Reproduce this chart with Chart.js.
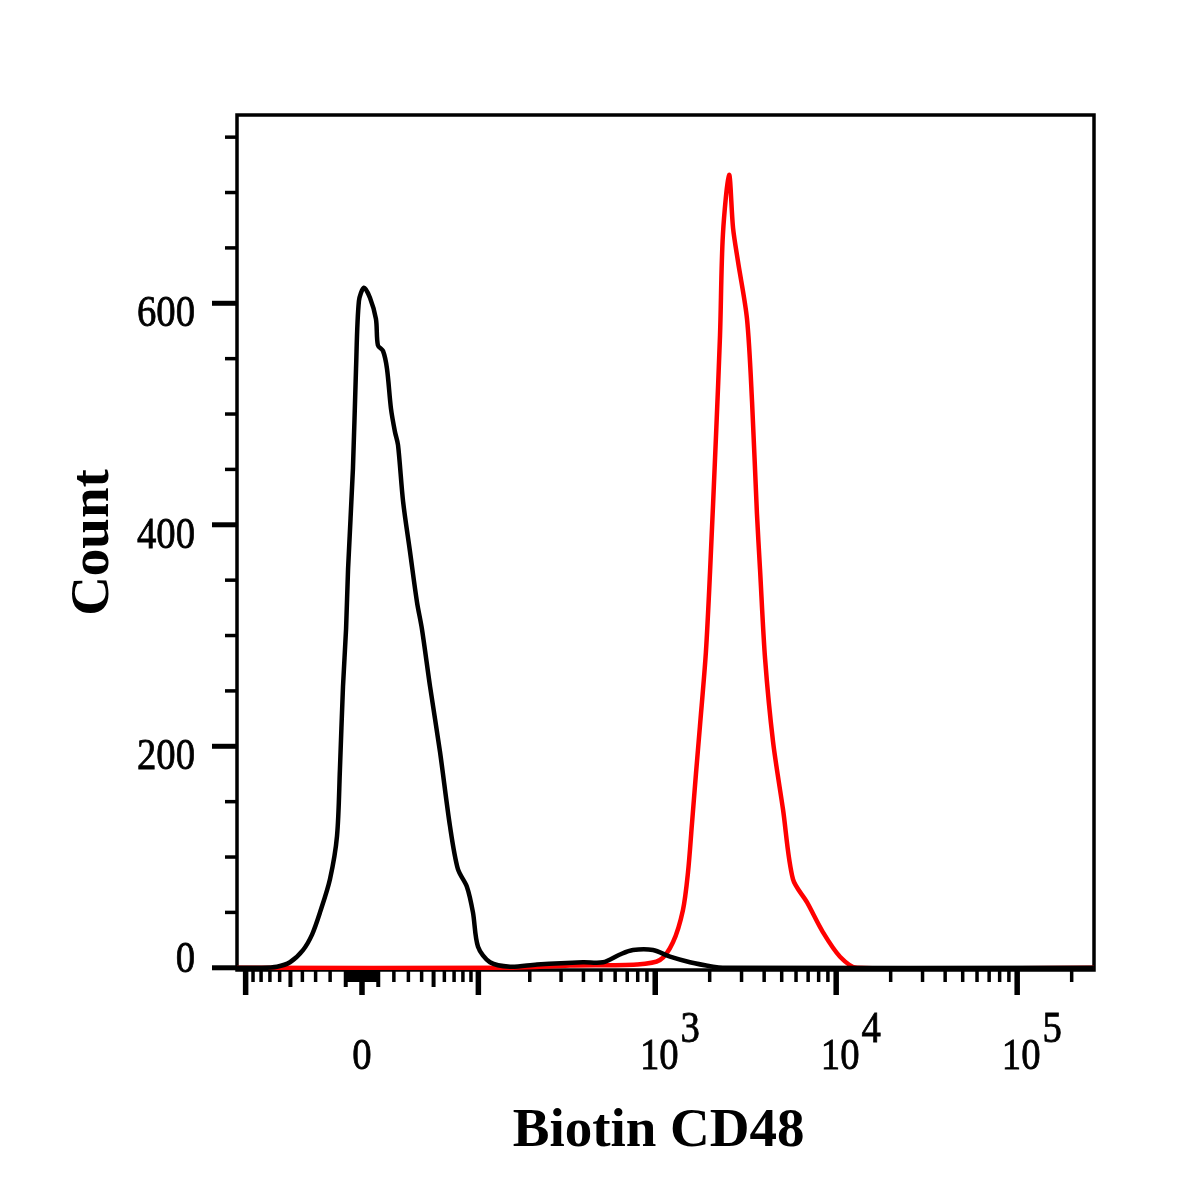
<!DOCTYPE html>
<html><head><meta charset="utf-8">
<script src="https://cdn.jsdelivr.net/npm/chart.js@4.4.0/dist/chart.umd.min.js"></script>
<style>html,body{margin:0;padding:0;background:#fff}#wrap{width:1200px;height:1200px}</style>
</head><body><div id="wrap"><canvas id="c" width="1200" height="1200"></canvas></div>
<script>
// x values are in display units (decades of the biexponential axis, 0 = value 0)
const blackX = [-0.691,-0.564,-0.470,-0.398,-0.326,-0.276,-0.232,-0.177,-0.138,-0.122,-0.105,-0.088,-0.077,-0.050,-0.033,-0.017,0.011,0.044,0.077,0.088,0.116,0.138,0.160,0.182,0.199,0.227,0.265,0.304,0.331,0.376,0.431,0.486,0.530,0.580,0.613,0.641,0.707,0.818,0.967,1.221,1.331,1.425,1.497,1.608,1.702,1.812,1.939,1.994,4.044];
const blackY = [0,0,1,5,16,30,50,80,119,179,254,306,360,451,541,602,614,605,586,562,557,541,505,484,472,421,376,330,306,254,195,128,89,73,50,19,5,1,3,5,5,12,16,16,10,5,1,0,0];
const redX = [-0.691,0.818,1.149,1.519,1.646,1.718,1.773,1.801,1.823,1.845,1.867,1.900,1.923,1.956,1.978,1.994,2.028,2.050,2.077,2.127,2.155,2.182,2.199,2.227,2.271,2.326,2.381,2.459,2.547,2.641,2.735,4.044];
const redY = [0,0,2,3,7,23,52,86,130,175,218,285,358,481,571,662,716,668,638,586,511,410,360,279,204,143,80,59,32,10,0,0];

const yMajorTicks = [0,200,400,600];
const yMinorTicks = [50,100,150,250,300,350,450,500,550,650,700,750];
const yTickLabels = ['0','200','400','600'];

const xMajorTicks = [-100,0,100,1000,10000,100000];
const xMediumTicks = [-50,-10,10,50];
const xMinorTicks = [-90,-80,-70,-60,-40,-30,-20,-9,-8,-7,-6,-5,-4,-3,-2,-1,1,2,3,4,5,6,7,8,9,20,30,40,60,70,80,90,
  200,300,400,500,600,700,800,900,2000,3000,4000,5000,6000,7000,8000,9000,
  20000,30000,40000,50000,60000,70000,80000,90000,200000];
const xLabelValues = [0,1000,10000,100000];
const xLabelBase = ['0','10','10','10'];
const xLabelExp = ['','3','4','5'];

const xTitle = 'Biotin CD48';
const yTitle = 'Count';

const W = 48;
function biex(v){ return Math.asinh(v / W) / Math.LN10; }

function drawScaledText(ctx, text, x, y, align){
  ctx.save(); ctx.translate(x, y); ctx.scale(0.86, 1);
  ctx.textAlign = align; ctx.fillText(text, 0, 0);
  ctx.lineWidth = 0.8; ctx.strokeText(text, 0, 0); ctx.restore();
}

const axisPlugin = {
  id: 'axisPlugin',
  beforeDatasetsDraw(chart){
    const {ctx, chartArea: a} = chart;
    ctx.save(); ctx.strokeStyle = '#000'; ctx.lineWidth = 3.5;
    ctx.strokeRect(a.left, a.top, a.right - a.left, a.bottom - a.top);
    ctx.restore();
  },
  afterDraw(chart){
    const {ctx, chartArea: a, scales: {x, y}} = chart;
    ctx.save();
    ctx.strokeStyle = '#000'; ctx.fillStyle = '#000';
    const line = (x1,y1,x2,y2,w)=>{ ctx.lineWidth = w; ctx.beginPath(); ctx.moveTo(x1,y1); ctx.lineTo(x2,y2); ctx.stroke(); };
    // y ticks
    yMajorTicks.forEach(v=>{ const p = y.getPixelForValue(v); line(a.left-25, p, a.left, p, 5); });
    yMinorTicks.forEach(v=>{ const p = y.getPixelForValue(v); line(a.left-12, p, a.left, p, 3.5); });
    // x ticks
    xMinorTicks.forEach(v=>{ const p = x.getPixelForValue(biex(v)); line(p, a.bottom, p, a.bottom+12, 3.5); });
    xMediumTicks.forEach(v=>{ const p = x.getPixelForValue(biex(v)); line(p, a.bottom, p, a.bottom+17, 4); });
    xMajorTicks.forEach(v=>{ const p = x.getPixelForValue(biex(v)); line(p, a.bottom, p, a.bottom+25, 5.5); });
    // labels
    ctx.font = '45px "Liberation Serif"';
    ctx.textBaseline = 'alphabetic';
    yMajorTicks.forEach((v,i)=>{
      const p = y.getPixelForValue(v);
      drawScaledText(ctx, yTickLabels[i], a.left - 42, v === 0 ? p + 4 : p + 23, 'right');
    });
    xLabelValues.forEach((v,i)=>{
      const p = x.getPixelForValue(biex(v));
      if (!xLabelExp[i]) { drawScaledText(ctx, xLabelBase[i], p, a.bottom + 99, 'center'); return; }
      const w = ctx.measureText(xLabelBase[i]).width * 0.86;
      const left = p + 4 - w / 2;
      drawScaledText(ctx, xLabelBase[i], left, a.bottom + 99, 'left');
      drawScaledText(ctx, xLabelExp[i], left + w + 2, a.bottom + 72, 'left');
    });
    ctx.restore();
  }
};

new Chart(document.getElementById('c'), {
  type: 'line',
  data: { datasets: [
    { label: 'Control', data: blackX.map((v,i)=>({x:v, y:blackY[i]})), borderColor: '#000000', borderWidth: 4.5, pointRadius: 0, tension: 0.3, fill: false },
    { label: 'Biotin CD48', data: redX.map((v,i)=>({x:v, y:redY[i]})), borderColor: '#ff0000', borderWidth: 4.5, pointRadius: 0, tension: 0.3, fill: false }
  ]},
  options: {
    responsive: false, animation: false, devicePixelRatio: 1,
    layout: { padding: { left: 0, top: 115, right: 106, bottom: 0 } },
    plugins: { legend: { display: false }, tooltip: { enabled: false } },
    scales: {
      x: { type: 'linear', min: -0.6906, max: 4.0442,
        grid: { display: false, drawTicks: false }, border: { display: false }, ticks: { display: false },
        title: { display: true, text: xTitle + ' ', color: '#000', font: { family: 'Liberation Serif', size: 55, weight: 'bold' }, padding: { top: 0, bottom: 35 } },
        afterFit(s){ s.height = 230; } },
      y: { type: 'linear', min: -2, max: 770,
        grid: { display: false, drawTicks: false }, border: { display: false }, ticks: { display: false },
        title: { display: true, text: yTitle, color: '#000', font: { family: 'Liberation Serif', size: 55, weight: 'bold' }, padding: { top: 61, bottom: 0 } },
        afterFit(s){ s.width = 237; } }
    }
  },
  plugins: [axisPlugin]
});
</script></body></html>
